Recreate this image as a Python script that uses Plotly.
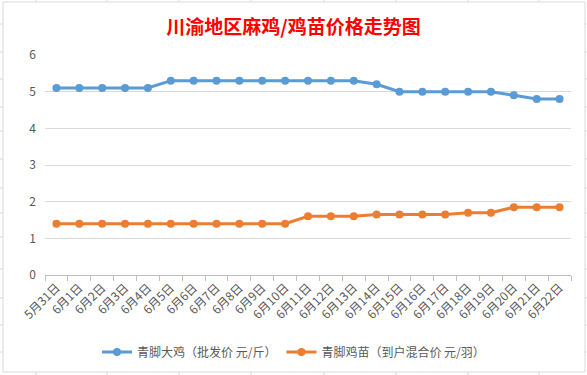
import plotly.graph_objects as go

categories = ["5月31日", "6月1日", "6月2日", "6月3日", "6月4日", "6月5日", "6月6日", "6月7日",
              "6月8日", "6月9日", "6月10日", "6月11日", "6月12日", "6月13日", "6月14日", "6月15日",
              "6月16日", "6月17日", "6月18日", "6月19日", "6月20日", "6月21日", "6月22日"]
big_chicken = [5.1, 5.1, 5.1, 5.1, 5.1, 5.3, 5.3, 5.3, 5.3, 5.3, 5.3, 5.3, 5.3, 5.3,
               5.2, 5.0, 5.0, 5.0, 5.0, 5.0, 4.9, 4.8, 4.8]
chick = [1.4, 1.4, 1.4, 1.4, 1.4, 1.4, 1.4, 1.4, 1.4, 1.4, 1.4, 1.6, 1.6, 1.6,
         1.65, 1.65, 1.65, 1.65, 1.7, 1.7, 1.85, 1.85, 1.85]
series_names = ["青脚大鸡（批发价 元/斤）", "青脚鸡苗（到户混合价 元/羽）"]
title_text = "川渝地区麻鸡/鸡苗价格走势图"

W, H = 587, 375
L, R, T, B = 45, 16, 55, 100
PW, PH = W - L - R, H - T - B

def px(x):
    return (x - L) / PW

def py(y):
    return (H - B - y) / PH

FONT = "Noto Sans CJK SC, Noto Sans, sans-serif"
GRAY = "#595959"

fig = go.Figure()
fig.add_trace(go.Scatter(x=categories, y=big_chicken, name=series_names[0], mode="lines+markers",
                         line=dict(color="#5B9BD5", width=3), marker=dict(size=8, color="#5B9BD5")))
fig.add_trace(go.Scatter(x=categories, y=chick, name=series_names[1], mode="lines+markers",
                         line=dict(color="#ED7D31", width=3), marker=dict(size=8, color="#ED7D31")))

shapes = [dict(type="rect", xref="paper", yref="paper", x0=px(3), x1=px(585), y0=py(2), y1=py(372),
               line=dict(color="#D9D9D9", width=1), layer="below")]
# spreadsheet cell grid fragments outside the chart frame
for x in [36, 107, 179, 251, 324, 396, 468, 539]:
    shapes.append(dict(type="line", xref="paper", yref="paper", x0=px(x), x1=px(x), y0=py(0), y1=py(2),
                       line=dict(color="#D9D9D9", width=1)))
    shapes.append(dict(type="line", xref="paper", yref="paper", x0=px(x), x1=px(x), y0=py(372), y1=py(375),
                       line=dict(color="#D9D9D9", width=1)))
for y in [24, 52, 79, 107, 131, 159, 188, 213, 237, 269, 298, 325, 352]:
    shapes.append(dict(type="line", xref="paper", yref="paper", x0=px(0), x1=px(3), y0=py(y), y1=py(y),
                       line=dict(color="#D9D9D9", width=1)))
    shapes.append(dict(type="line", xref="paper", yref="paper", x0=px(585), x1=px(587), y0=py(y), y1=py(y),
                       line=dict(color="#D9D9D9", width=1)))

fig.update_layout(
    width=W, height=H,
    margin=dict(l=L, r=R, t=T, b=B, autoexpand=False),
    paper_bgcolor="white", plot_bgcolor="white",
    font=dict(family=FONT, color=GRAY, size=12),
    title=dict(text="<b>" + title_text + "</b>", x=0.5, xref="container", xanchor="center",
               y=1 - 27 / H, yanchor="middle", yref="container",
               font=dict(family=FONT, size=19, color="#FF0000")),
    showlegend=True,
    legend=dict(orientation="h", x=0.5, xanchor="center", xref="container",
                y=1 - 352 / H, yanchor="middle", yref="container",
                font=dict(size=12, color=GRAY), itemwidth=30, tracegroupgap=0),
    xaxis=dict(type="category", range=[-0.5, len(categories) - 0.5], tickangle=-45,
               tickson="boundaries", ticks="outside", ticklen=5, tickcolor="#BFBFBF",
               showline=True, linecolor="#BFBFBF", linewidth=1, showgrid=False,
               tickfont=dict(size=12, color=GRAY), fixedrange=True, automargin=False),
    yaxis=dict(range=[0, 6], dtick=1, showgrid=True, gridcolor="#D9D9D9", gridwidth=1,
               zeroline=False, showline=False, ticks="", tickfont=dict(size=12, color=GRAY),
               ticklabelstandoff=8, fixedrange=True, automargin=False),
    shapes=shapes,
)

fig.write_html("out.html", config={"displayModeBar": False},
               post_script="document.body.style.margin='0';document.body.style.overflow='hidden';")
